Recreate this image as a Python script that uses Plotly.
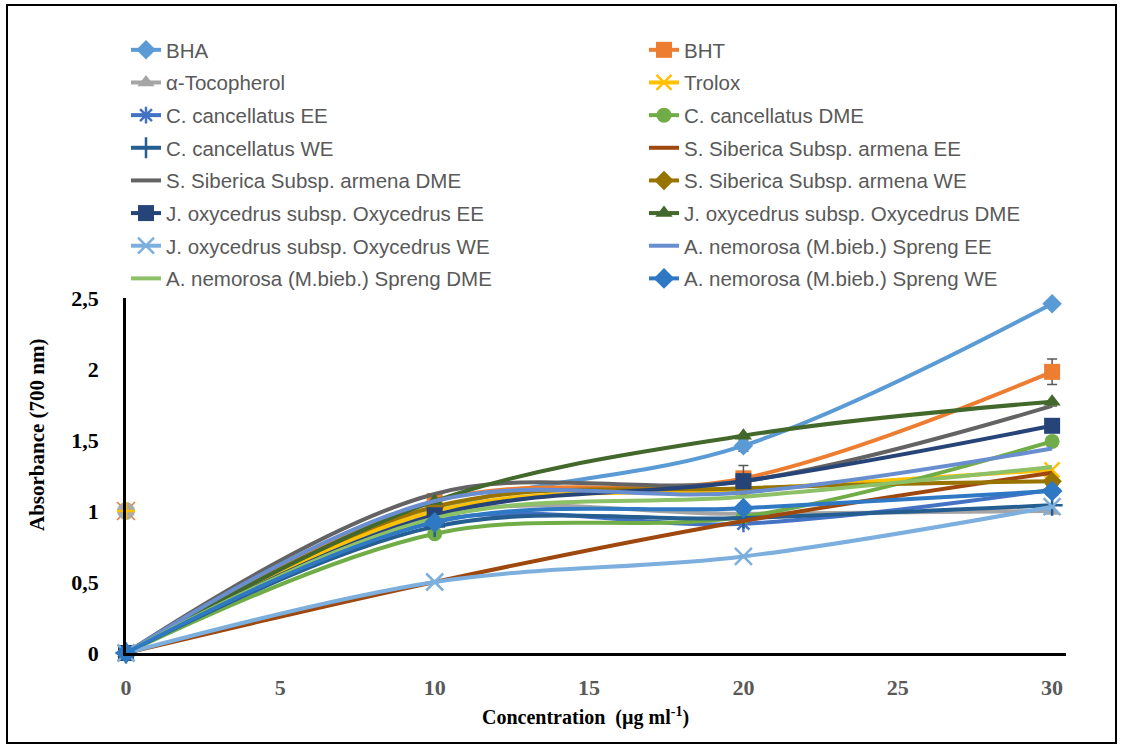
import plotly.graph_objects as go

# Concentrations (µg/ml)
conc = [0, 10, 20, 30]

# Absorbance at 700 nm for each sample
bha = [0, 1.00, 1.46, 2.46]
bht = [0, 1.07, 1.23, 1.98]
tocopherol = [0, 0.97, 0.98, 1.00]
trolox = [0, 1.00, 1.15, 1.29]
cc_ee = [0, 0.93, 0.91, 1.15]
cc_dme = [0, 0.84, 0.96, 1.49]
cc_we = [0, 0.89, 0.95, 1.04]
ss_ee = [0, 0.50, 0.93, 1.27]
ss_dme = [0, 1.12, 1.21, 1.74]
ss_we = [0, 1.03, 1.16, 1.21]
jo_ee = [0, 0.97, 1.21, 1.60]
jo_dme = [0, 1.07, 1.53, 1.77]
jo_we = [0, 0.50, 0.68, 1.03]
an_ee = [0, 1.07, 1.13, 1.44]
an_dme = [0, 0.95, 1.10, 1.31]
an_we = [0, 0.92, 1.02, 1.14]

# Standard deviations (only where shown)
bha_err = [0, 0, 0.04, 0]
bht_err = [0, 0, 0, 0.09]
ss_dme_err = [0, 0, 0.11, 0]

# Single stray point at the y axis
stray_x = [0]
stray_y = [1]

names = [
    "BHA", "BHT", "α-Tocopherol", "Trolox",
    "C. cancellatus EE", "C. cancellatus DME", "C. cancellatus WE",
    "S. Siberica Subsp. armena EE", "S. Siberica Subsp. armena DME",
    "S. Siberica Subsp. armena WE",
    "J. oxycedrus subsp. Oxycedrus EE", "J. oxycedrus subsp. Oxycedrus DME",
    "J. oxycedrus subsp. Oxycedrus WE",
    "A. nemorosa (M.bieb.) Spreng EE", "A. nemorosa (M.bieb.) Spreng DME",
    "A. nemorosa (M.bieb.) Spreng WE",
]
values = [bha, bht, tocopherol, trolox, cc_ee, cc_dme, cc_we, ss_ee, ss_dme,
          ss_we, jo_ee, jo_dme, jo_we, an_ee, an_dme, an_we]
errors = {0: bha_err, 1: bht_err, 8: ss_dme_err}
colors = ["#5B9BD5", "#ED7D31", "#A5A5A5", "#FFC000", "#4472C4", "#70AD47",
          "#255E91", "#9E480E", "#636363", "#997300", "#264478", "#43682B",
          "#7CAFDD", "#698ED0", "#8CC168", "#2F78C4"]
symbols = ["diamond", "square", "triangle-up", "x-thin-open", "asterisk-open",
           "circle", "cross-thin-open", None, None, "diamond", "square",
           "triangle-up", "x-thin-open", None, None, "diamond"]
msizes = [15, 16, 15, 15, 14, 15, 15, 0, 0, 15, 16, 15, 17, 0, 0, 16]

# Pixel geometry of the plot area
L, R, T, B = 126, 1066, 298, 653
W, H = R - L, B - T


def xp(px):
    return (px - L) / W


def yp(py):
    return (B - py) / H


fig = go.Figure()

for i, (name, ys) in enumerate(zip(names, values)):
    sym = symbols[i]
    mode = "lines+markers" if sym else "lines"
    marker = None
    if sym:
        if sym.endswith("-open"):
            marker = dict(symbol=sym, size=msizes[i], color=colors[i],
                          line=dict(width=2.5, color=colors[i]))
        else:
            marker = dict(symbol=sym, size=msizes[i], color=colors[i])
    err = None
    if i in errors:
        err = dict(type="data", array=errors[i], visible=True,
                   color="#595959", thickness=1.5, width=5)
    fig.add_trace(go.Scatter(
        x=conc, y=ys, name=name, mode=mode, cliponaxis=False,
        line=dict(color=colors[i], width=4, shape="spline", smoothing=1),
        marker=marker, error_y=err,
        legend="legend" if i % 2 == 0 else "legend2",
        legendgroup=name,
    ))

# Stray marker drawn at concentration 0: orange x behind a grey disc with a yellow cross
fig.add_trace(go.Scatter(x=stray_x, y=stray_y, mode="markers", showlegend=False,
                         cliponaxis=False,
                         marker=dict(symbol="x-thin-open", size=18, color="#ED7D31",
                                     line=dict(width=1.5, color="#ED7D31"))))
fig.add_trace(go.Scatter(x=stray_x, y=stray_y, mode="markers", showlegend=False,
                         cliponaxis=False,
                         marker=dict(symbol="circle", size=17, color="#ABABAB",
                                     opacity=1,
                                     line=dict(width=1, color="#ABABAB"))))
fig.add_trace(go.Scatter(x=stray_x, y=stray_y, mode="markers", showlegend=False,
                         cliponaxis=False,
                         marker=dict(symbol="cross-thin-open", size=13, color="#FFC000",
                                     line=dict(width=2.5, color="#FFC000"))))

legend_style = dict(
    font=dict(family="Liberation Sans", size=20.5, color="#595959"),
    bgcolor="rgba(0,0,0,0)", orientation="v", tracegroupgap=3,
    yanchor="top", xanchor="left", itemclick=False,
)

fig.update_layout(
    width=1121, height=745,
    margin=dict(l=L, r=1121 - R, t=T, b=745 - B, pad=0),
    paper_bgcolor="white", plot_bgcolor="white",
    showlegend=True,
    legend=dict(x=xp(126), y=yp(30), **legend_style),
    legend2=dict(x=xp(644), y=yp(30), **legend_style),
    xaxis=dict(
        range=[0, 30.45], tickvals=[0, 5, 10, 15, 20, 25, 30],
        showgrid=False, zeroline=False, showline=True,
        linecolor="black", linewidth=2.5,
        ticks="", ticklabelstandoff=13,
        tickfont=dict(family="Liberation Serif", size=22, color="#595959",
                      weight="bold"),
    ),
    yaxis=dict(
        range=[0, 2.5], tickvals=[0, 0.5, 1, 1.5, 2, 2.5],
        ticktext=["0", "0,5", "1", "1,5", "2", "2,5"],
        showgrid=False, zeroline=False, showline=True,
        linecolor="black", linewidth=2.5,
        ticks="", ticklabelstandoff=20,
        tickfont=dict(family="Liberation Serif", size=22, color="black",
                      weight="bold"),
    ),
    annotations=[
        dict(text="<b>Concentration  (µg ml<sup>-1</sup>)</b>",
             x=xp(585), y=yp(716), xref="paper", yref="paper",
             showarrow=False, xanchor="center", yanchor="middle",
             font=dict(family="Liberation Serif", size=20, color="black")),
        dict(text="<b>Absorbance (700 nm)</b>", textangle=-90,
             x=xp(37), y=yp(435), xref="paper", yref="paper",
             showarrow=False, xanchor="center", yanchor="middle",
             font=dict(family="Liberation Serif", size=21, color="black")),
    ],
    shapes=[
        dict(type="rect", xref="paper", yref="paper",
             x0=xp(7), x1=xp(1116), y0=yp(743), y1=yp(5),
             line=dict(color="black", width=2), fillcolor="rgba(0,0,0,0)",
             layer="below"),
    ],
)

fig.write_html("out.html")
